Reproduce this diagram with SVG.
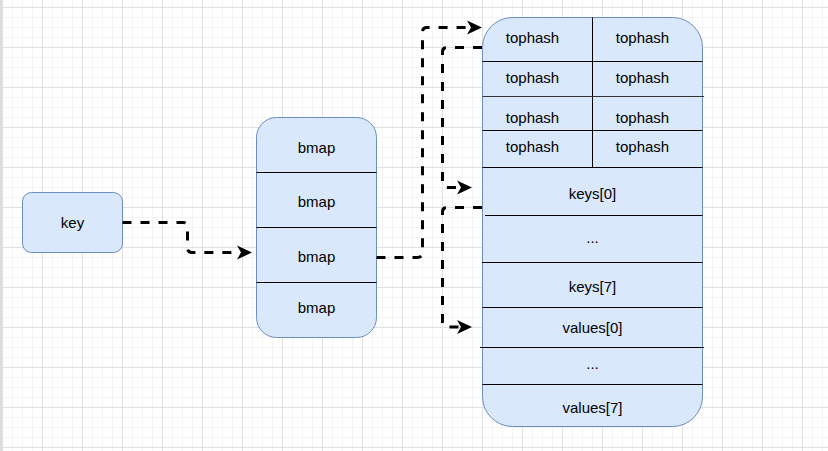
<svg xmlns="http://www.w3.org/2000/svg" width="828" height="451" viewBox="0 0 828 451">
  <defs>
    <pattern id="grid" patternUnits="userSpaceOnUse" x="2" y="7" width="40" height="40">
      <path d="M10.5,0V40M20.5,0V40M30.5,0V40M0,10.5H40M0,20.5H40M0,30.5H40" stroke="#f4f4f4" stroke-width="1" fill="none"/>
      <path d="M0.5,0V40M0,0.5H40" stroke="#e0e0e0" stroke-width="1" fill="none"/>
    </pattern>
    <marker id="arrow" markerUnits="userSpaceOnUse" markerWidth="20" markerHeight="20" refX="0" refY="0" viewBox="-5 -10 20 20" orient="auto" overflow="visible">
      <path d="M12,0 L-3,-7 L1,0 L-3,7 Z" fill="#000"/>
    </marker>
    <style>
      .box { fill: #dae8fc; stroke: #6c8ebf; stroke-width: 1; }
      .div { stroke: #000; stroke-width: 1; fill: none; }
      .t { font-family: "Liberation Sans", Arial, sans-serif; font-size: 15px; fill: #000; text-anchor: middle; }
      .conn { fill: none; stroke: #000; stroke-width: 3; stroke-dasharray: 9 9; marker-end: url(#arrow); }
    </style>
  </defs>

  <rect x="0" y="0" width="828" height="451" fill="#ffffff"/>
  <rect x="0" y="0" width="828" height="451" fill="url(#grid)"/>
  <rect x="0" y="0" width="2" height="451" fill="#dcdcdc"/>

  <g id="key">
    <rect class="box" x="22.5" y="192.5" width="100" height="60" rx="9"/>
    <text class="t" x="72.5" y="227.5">key</text>
  </g>

  <g id="bmaps">
    <rect class="box" x="256.5" y="117.5" width="120" height="220" rx="20"/>
    <path class="div" d="M256.5,172.5H376.5M256.5,227.5H376.5M256.5,282.5H376.5"/>
    <text class="t" x="316.5" y="152.5">bmap</text>
    <text class="t" x="316.5" y="207">bmap</text>
    <text class="t" x="316.5" y="262">bmap</text>
    <text class="t" x="316.5" y="312.5">bmap</text>
  </g>

  <g id="bucket">
    <rect class="box" x="482.5" y="17.5" width="220" height="409" rx="30"/>
    <path class="div" d="M592.5,17.5V167.5M482.5,61.5H702.5M482.5,130.5H702.5M482.5,167.5H702.5M485,215.5H702.5M482,262.5H702.5M482.5,307.5H702.5M480,347.5H704M482.5,384.5H702.5"/>
    <path d="M482.5,96.5H704" stroke="#333" stroke-width="1.2" fill="none"/>
    <text class="t" x="532.5" y="43">tophash</text>
    <text class="t" x="642.5" y="43">tophash</text>
    <text class="t" x="532.5" y="82.5">tophash</text>
    <text class="t" x="642.5" y="82.5">tophash</text>
    <text class="t" x="532.5" y="122.5">tophash</text>
    <text class="t" x="642.5" y="122.5">tophash</text>
    <text class="t" x="532.5" y="152">tophash</text>
    <text class="t" x="642.5" y="152">tophash</text>
    <text class="t" x="592.5" y="199">keys[0]</text>
    <text class="t" x="592.5" y="243">...</text>
    <text class="t" x="592.5" y="292">keys[7]</text>
    <text class="t" x="592.5" y="333">values[0]</text>
    <text class="t" x="592.5" y="369">...</text>
    <text class="t" x="592.5" y="413">values[7]</text>
  </g>

  <g id="connectors">
    <path class="conn" d="M122.5,222.5 H183 Q187.5,222.5 187.5,227 V247.5 Q187.5,252.5 192,252.5 H240"/>
    <path class="conn" d="M376.5,257.5 H417 Q422.5,257.5 422.5,252.5 V32 Q422.5,27.5 427,27.5 H470"/>
    <path class="conn" d="M482,47.5 H447 Q442.5,47.5 442.5,52 V182.5 Q442.5,187.5 447.5,187.5 H460"/>
    <path class="conn" d="M482,207.5 H447 Q442.5,207.5 442.5,212 V322 Q442.5,327 447.5,327 H460"/>
  </g>
</svg>
